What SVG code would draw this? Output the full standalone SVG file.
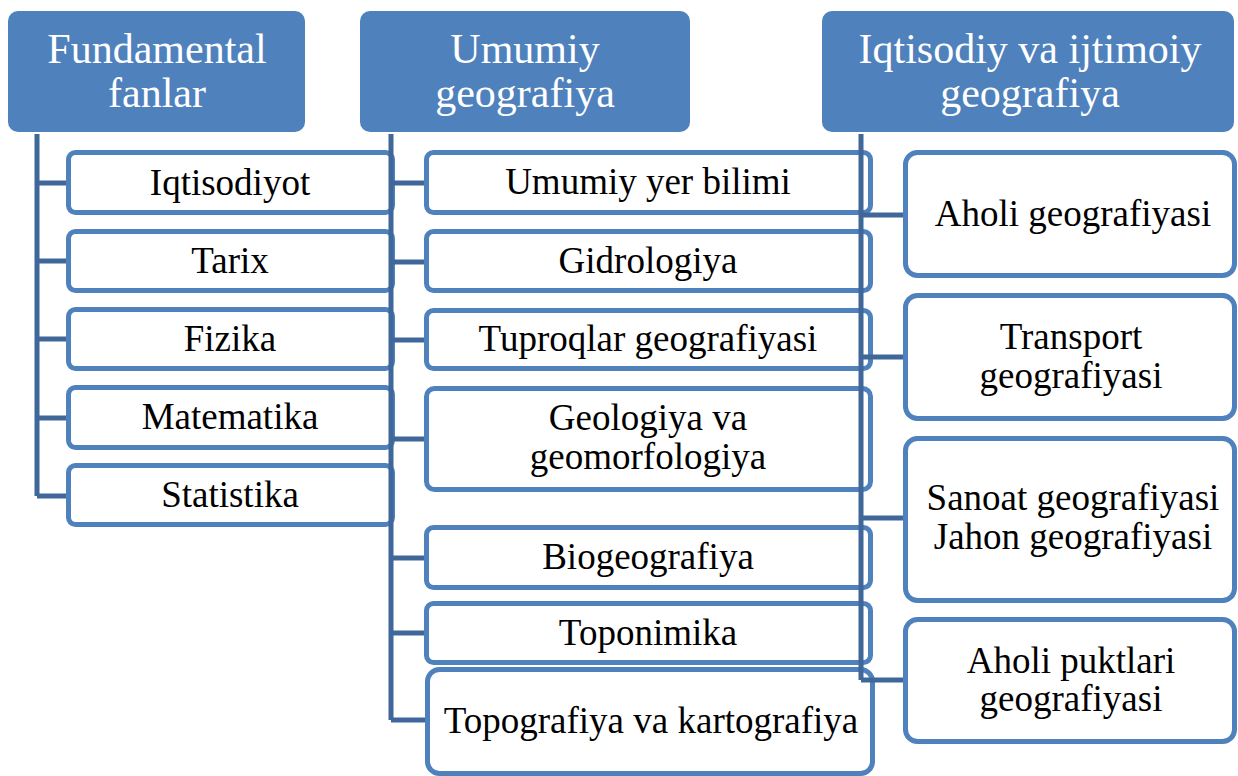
<svg xmlns="http://www.w3.org/2000/svg" width="1238" height="776" viewBox="0 0 1238 776">
<style>
.hdr{fill:#4F81BD;}
.box{fill:#FFFFFF;stroke:#4F81BD;stroke-width:5;}
.ht{font-size:42px;fill:#FFFFFF;text-anchor:middle;}
.bt{font-size:37px;fill:#000000;text-anchor:middle;}
.con{fill:none;stroke:#3F679A;stroke-width:5;}
</style>
<rect width="1238" height="776" fill="#FFFFFF"/>
<g font-family="'Liberation Serif', 'Times New Roman', Tinos, 'DejaVu Serif', serif">
<g id="h1"><rect class="hdr" x="8" y="11" width="297" height="121" rx="10"/><text class="ht" x="157" y="63">Fundamental</text><text class="ht" x="157" y="107">fanlar</text></g>
<g id="h2"><rect class="hdr" x="360" y="11" width="330" height="121" rx="10"/><text class="ht" x="525" y="63">Umumiy</text><text class="ht" x="525" y="107">geografiya</text></g>
<g id="h3"><rect class="hdr" x="822" y="11" width="412" height="121" rx="10"/><text class="ht" x="1030" y="63">Iqtisodiy va ijtimoiy</text><text class="ht" x="1030" y="107">geografiya</text></g>

<g id="l1"><rect class="box" x="68.5" y="152.5" width="324" height="60" rx="7"/><text class="bt" x="230" y="195">Iqtisodiyot</text></g>
<g id="l2"><rect class="box" x="68.5" y="231.5" width="324" height="59" rx="7"/><text class="bt" x="230" y="273">Tarix</text></g>
<g id="l3"><rect class="box" x="68.5" y="309.5" width="324" height="59" rx="7"/><text class="bt" x="230" y="351">Fizika</text></g>
<g id="l4"><rect class="box" x="68.5" y="387.5" width="324" height="60" rx="7"/><text class="bt" x="230" y="429">Matematika</text></g>
<g id="l5"><rect class="box" x="68.5" y="465.5" width="324" height="59" rx="7"/><text class="bt" x="230" y="507">Statistika</text></g>

<g id="m1"><rect class="box" x="426.5" y="152.5" width="444" height="60" rx="7"/><text class="bt" x="648" y="194">Umumiy yer bilimi</text></g>
<g id="m2"><rect class="box" x="426.5" y="231.5" width="444" height="59" rx="7"/><text class="bt" x="648" y="273">Gidrologiya</text></g>
<g id="m3"><rect class="box" x="426.5" y="310.5" width="444" height="58" rx="7"/><text class="bt" x="648" y="351">Tuproqlar geografiyasi</text></g>
<g id="m4"><rect class="box" x="426.5" y="388.5" width="444" height="101" rx="8"/><text class="bt" x="648" y="430">Geologiya va</text><text class="bt" x="648" y="469">geomorfologiya</text></g>
<g id="m5"><rect class="box" x="426.5" y="527.5" width="444" height="60" rx="7"/><text class="bt" x="648" y="569">Biogeografiya</text></g>
<g id="m6"><rect class="box" x="426.5" y="603.5" width="444" height="59" rx="7"/><text class="bt" x="648" y="645">Toponimika</text></g>
<g id="m7"><rect class="box" x="427.5" y="669.5" width="445" height="104" rx="12"/><text class="bt" x="651" y="733">Topografiya va kartografiya</text></g>

<g id="r1"><rect class="box" x="905.5" y="152.5" width="329" height="123" rx="12"/><text class="bt" x="1073" y="226">Aholi geografiyasi</text></g>
<g id="r2"><rect class="box" x="905.5" y="295.5" width="329" height="123" rx="12"/><text class="bt" x="1071" y="349">Transport</text><text class="bt" x="1071" y="388">geografiyasi</text></g>
<g id="r3"><rect class="box" x="905.5" y="438.5" width="329" height="162" rx="12"/><text class="bt" x="1073" y="510">Sanoat geografiyasi</text><text class="bt" x="1073" y="549">Jahon geografiyasi</text></g>
<g id="r4"><rect class="box" x="905.5" y="619.5" width="329" height="122" rx="12"/><text class="bt" x="1071" y="673">Aholi puktlari</text><text class="bt" x="1071" y="711">geografiyasi</text></g>
</g>
<g id="connectors">
<path class="con" d="M37 134 V496 M37 183 H66 M37 261 H66 M37 339 H66 M37 418 H66 M37 496 H66"/>
<path class="con" d="M391 134 V720 M391 183 H424 M391 262 H424 M391 340 H424 M391 439 H424 M391 558 H424 M391 633 H424 M391 720 H425"/>
<path class="con" d="M861 134 V680 M861 215 H903 M861 357 H903 M861 518 H903 M861 680 H903"/>
</g>
</svg>
